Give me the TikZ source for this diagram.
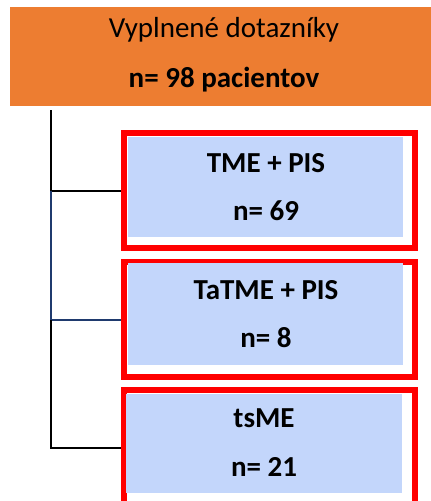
\documentclass[tikz,border=0pt]{standalone}
\usepackage{fontspec}
\setmainfont{Carlito}
\definecolor{orangefill}{HTML}{ED7D31}
\definecolor{bluefill}{HTML}{C3D6FB}
\definecolor{redline}{HTML}{FF0000}
\definecolor{navyline}{HTML}{1F3A6E}
\tikzset{
  orangebox/.style={rectangle, fill=orangefill, draw=none, inner sep=0pt, anchor=north west},
  redbox/.style={rectangle, draw=redline, line width=6pt, fill=white, inner sep=0pt, anchor=north west},
  bluebox/.style={rectangle, fill=bluefill, draw=none, inner sep=0pt, anchor=north west},
  txt/.style={anchor=base, inner sep=0pt, font=\fontsize{29}{34}\selectfont},
  btxt/.style={txt, font=\fontsize{29}{34}\selectfont\bfseries},
  conn/.style={line width=2pt, draw=black}
}
\begin{document}
\begin{tikzpicture}[x=1pt,y=-1pt]
\useasboundingbox (0,0) rectangle (431,501);
\path[clip] (0,0) rectangle (431,501);
% top box
\node[orangebox, minimum width=429pt, minimum height=99pt] (top) at (10,7) {};
\node[txt] (toptitle) at (224,37) {Vyplnené dotazníky};
\node[btxt] (topn) at (224,87) {n= 98 pacientov};
% box 1
\node[redbox, minimum width=291pt, minimum height=115pt] (r1) at (121,130) {};
\node[bluebox, minimum width=275pt, minimum height=100pt] (b1) at (128,137) {};
\node[btxt] (t1a) at (266,172) {TME + PIS};
\node[btxt] (t1b) at (266,220) {n= 69};
% box 2
\node[redbox, minimum width=291pt, minimum height=115pt] (r2) at (121,259) {};
\node[bluebox, minimum width=275pt, minimum height=102pt] (b2) at (128,263) {};
\node[btxt] (t2a) at (266,299) {TaTME + PIS};
\node[btxt] (t2b) at (266,347) {n= 8};
% box 3
\node[redbox, minimum width=291pt, minimum height=115pt] (r3) at (121,387) {};
\node[bluebox, minimum width=276pt, minimum height=99pt] (b3) at (126,394) {};
\node[btxt] (t3a) at (264,427) {tsME};
\node[btxt] (t3b) at (264,476) {n= 21};
% connectors
\coordinate (trunk) at (51,110);
\draw[conn] (trunk) |- (r1.west);
\draw[conn, draw=navyline] (trunk |- r1.west) |- (r2.west);
\draw[conn] (trunk |- r2.west) |- (r3.west);
\end{tikzpicture}
\end{document}
